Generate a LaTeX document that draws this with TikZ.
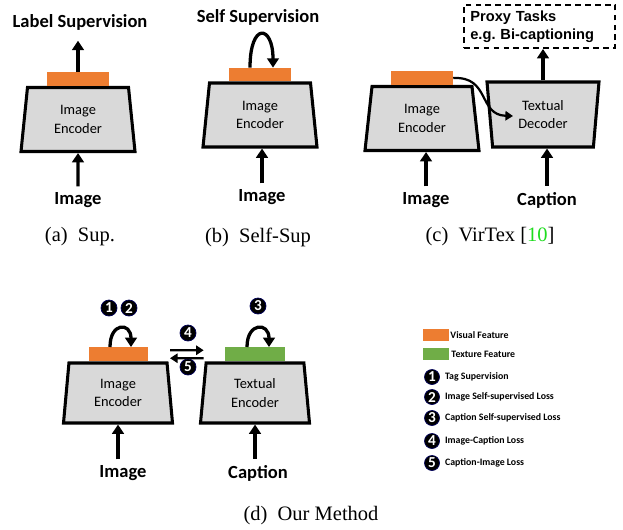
\documentclass[tikz,border=0pt]{standalone}
\usepackage{fontspec}
\setmainfont{Liberation Serif}
\newfontfamily\calfont{Carlito}
\newfontfamily\arialfont{Liberation Sans}
\usetikzlibrary{positioning,shapes.geometric,arrows.meta}
\definecolor{featorange}{HTML}{ED7D31}
\definecolor{featgreen}{HTML}{70AD47}
\definecolor{encgray}{HTML}{D9D9D9}
\definecolor{citegreen}{RGB}{30,220,30}
\frenchspacing
\tikzset{enc node/.style={trapezium,trapezium stretches body,draw,line width=2.6pt,fill=encgray,align=center,inner sep=0pt,
		font=\calfont\fontsize{12.3}{16}\selectfont,trapezium left angle=77,trapezium right angle=77,minimum width=3.42cm,minimum height=1.92cm},
	dec node/.style={enc node,trapezium left angle=101,trapezium right angle=101,minimum width=3.36cm,minimum height=1.95cm},
	our node/.style={enc node,trapezium left angle=79,trapezium right angle=79,minimum width=3.27cm,minimum height=1.8cm},
	feat node/.style={rectangle,inner sep=0pt,fill=featorange,minimum width=1.86cm,minimum height=0.4cm},
	lab node/.style={font=\calfont\bfseries\fontsize{15.8}{17}\selectfont,inner sep=2pt},
	cap node/.style={font=\fontsize{17.5}{20}\selectfont},
	num node/.style={circle,fill=black,draw=blue!35!black,line width=0.6pt,text=white,inner sep=0pt,minimum size=0.48cm,
		font=\calfont\bfseries\fontsize{13}{13}\selectfont},
	leg node/.style={font=\calfont\bfseries\fontsize{8.4}{10}\selectfont,inner sep=0pt,anchor=west},
	arr/.style={line width=2.8pt,-{Triangle[width=10pt,length=8pt]}},
	thin arr/.style={line width=1.9pt,-{Triangle[width=8pt,length=6.5pt]}},
}

\begin{document}
\begin{tikzpicture}[x=0.03cm,y=-0.03cm]
	\useasboundingbox (0,0) rectangle (623,529);
	
	%% (a)
	\node[enc node] (enca) at (78,119.5) {Image\\Encoder};
	\node[feat node] (feata) [above=0pt of enca] {};
	\node[lab node] (supa) at (80,22) {Label Supervision};
	\node[lab node] (imga) at (78,200) {Image};
	\node[cap node] (capa) at (80,237) {(a)\ \ Sup.};
	\draw[arr,shorten >=7pt] (feata.north) -- (feata.north |- supa.south);
	\draw[arr,shorten <=3pt] (imga.north) -- (enca.south);
	
	%% (b)
	\node[enc node] (encb) at (260,115) {Image\\Encoder};
	\node[feat node] (featb) [above=0pt of encb] {};
	\node[lab node] (supb) at (258,17) {Self Supervision};
	\node[lab node] (imgb) at (262,197) {Image};
	\node[cap node] (capb) at (258,237) {(b)\ \ Self-Sup};
	\draw[arr] ([xshift=-0.3cm]featb.north) .. controls +(0,-46) and +(0,-43) .. ([xshift=0.39cm]featb.north);
	\draw[arr,shorten <=3pt] (imgb.north) -- (imgb.north |- encb.south);
	
	%% (c)
	\node[enc node,trapezium left angle=76,trapezium right angle=76] (encc) at (422,118.5) {Image\\Encoder};
	\node[feat node] (featc) [above=0pt of encc] {};
	\node[dec node] (decc) at (543,114.5) {Textual\\Decoder};
	\node[draw,line width=1.7pt,dash pattern=on 5pt off 3.5pt,align=left,text width=4.15cm,inner xsep=0.2cm,minimum height=1.29cm,
		font=\arialfont\bfseries\fontsize{12.5}{15}\selectfont] (proxy) at (539.5,26.5) {Proxy Tasks\\e.g. Bi-captioning};
	\coordinate (c-in) at (513,116);
	\draw[thin arr] (featc.east) .. controls +(37,-2) and +(-35,-1) .. (c-in);
	\draw[arr] (decc.north) -- (decc.north |- proxy.south);
	\node[lab node] (imgc) at (426,200) {Image};
	\node[lab node] (txtc) at (547,200) {Caption};
	\draw[arr,shorten <=3pt] (imgc.north) -- (imgc.north |- encc.south);
	\draw[arr,shorten <=3pt] (txtc.north) -- (txtc.north |- decc.south);
	\node[cap node] (capc) at (490,237) {(c)\ \ VirTex [\textcolor{citegreen}{10}]};
	
	%% (d)
	\node[our node] (encd) at (118,393) {Image\\Encoder};
	\node[feat node,minimum width=1.77cm,minimum height=0.42cm] (featd) [above=0pt of encd] {};
	\node[our node] (txtd) at (255,393) {Textual\\Encoder};
	\node[feat node,fill=featgreen,minimum width=1.8cm,minimum height=0.42cm] (featt) [above=0pt of txtd] {};
	\draw[arr] ([xshift=-0.24cm]featd.north) .. controls +(0,-25) and +(0,-25) .. ([xshift=0.39cm]featd.north);
	\draw[arr] ([xshift=-0.24cm]featt.north) .. controls +(0,-25) and +(0,-25) .. ([xshift=0.42cm]featt.north);
	\node[num node] (n1) at (109,308) {1};
	\node[num node] (n2) at (129,308) {2};
	\node[num node] (n3) at (258,306) {3};
	\node[num node] (n4) at (188,333) {4};
	\node[num node] (n5) at (188,367) {5};
	\draw[thin arr,shorten <=19pt,shorten >=18pt] ([yshift=0.12cm]featd.east) -- ([yshift=0.12cm]featt.west);
	\draw[thin arr,shorten <=18pt,shorten >=19pt] ([yshift=-0.12cm]featt.west) -- ([yshift=-0.12cm]featd.east);
	\node[lab node] (imgd) at (123,473) {Image};
	\node[lab node] (capd) at (258,473) {Caption};
	\draw[arr,shorten <=3pt] (encd.south |- imgd.north) -- (encd.south);
	\draw[arr,shorten <=3pt] (txtd.south |- capd.north) -- (txtd.south);
	\node[cap node] (capdd) at (311,516) {(d)\ \ Our Method};
	
	%% legend
	\node[feat node,minimum width=0.78cm,minimum height=0.36cm] (legv) at (436,335) {};
	\node[leg node,right=0.03cm of legv] {Visual Feature};
	\node[feat node,fill=featgreen,minimum width=0.78cm,minimum height=0.36cm] (legt) at (436,354) {};
	\node[leg node,right=0.06cm of legt] {Texture Feature};
	\foreach \n/\y/\t in {1/377/Tag Supervision,2/397/Image Self-supervised Loss,3/418/Caption Self-supervised Loss,
		4/441/Image-Caption Loss,5/463/Caption-Image Loss}
	{
		\node[num node,minimum size=0.45cm] (leg\n) at (432,\y) {\n};
		\node[leg node,right=0.15cm of leg\n] {\t};
	}
\end{tikzpicture}
\end{document}
